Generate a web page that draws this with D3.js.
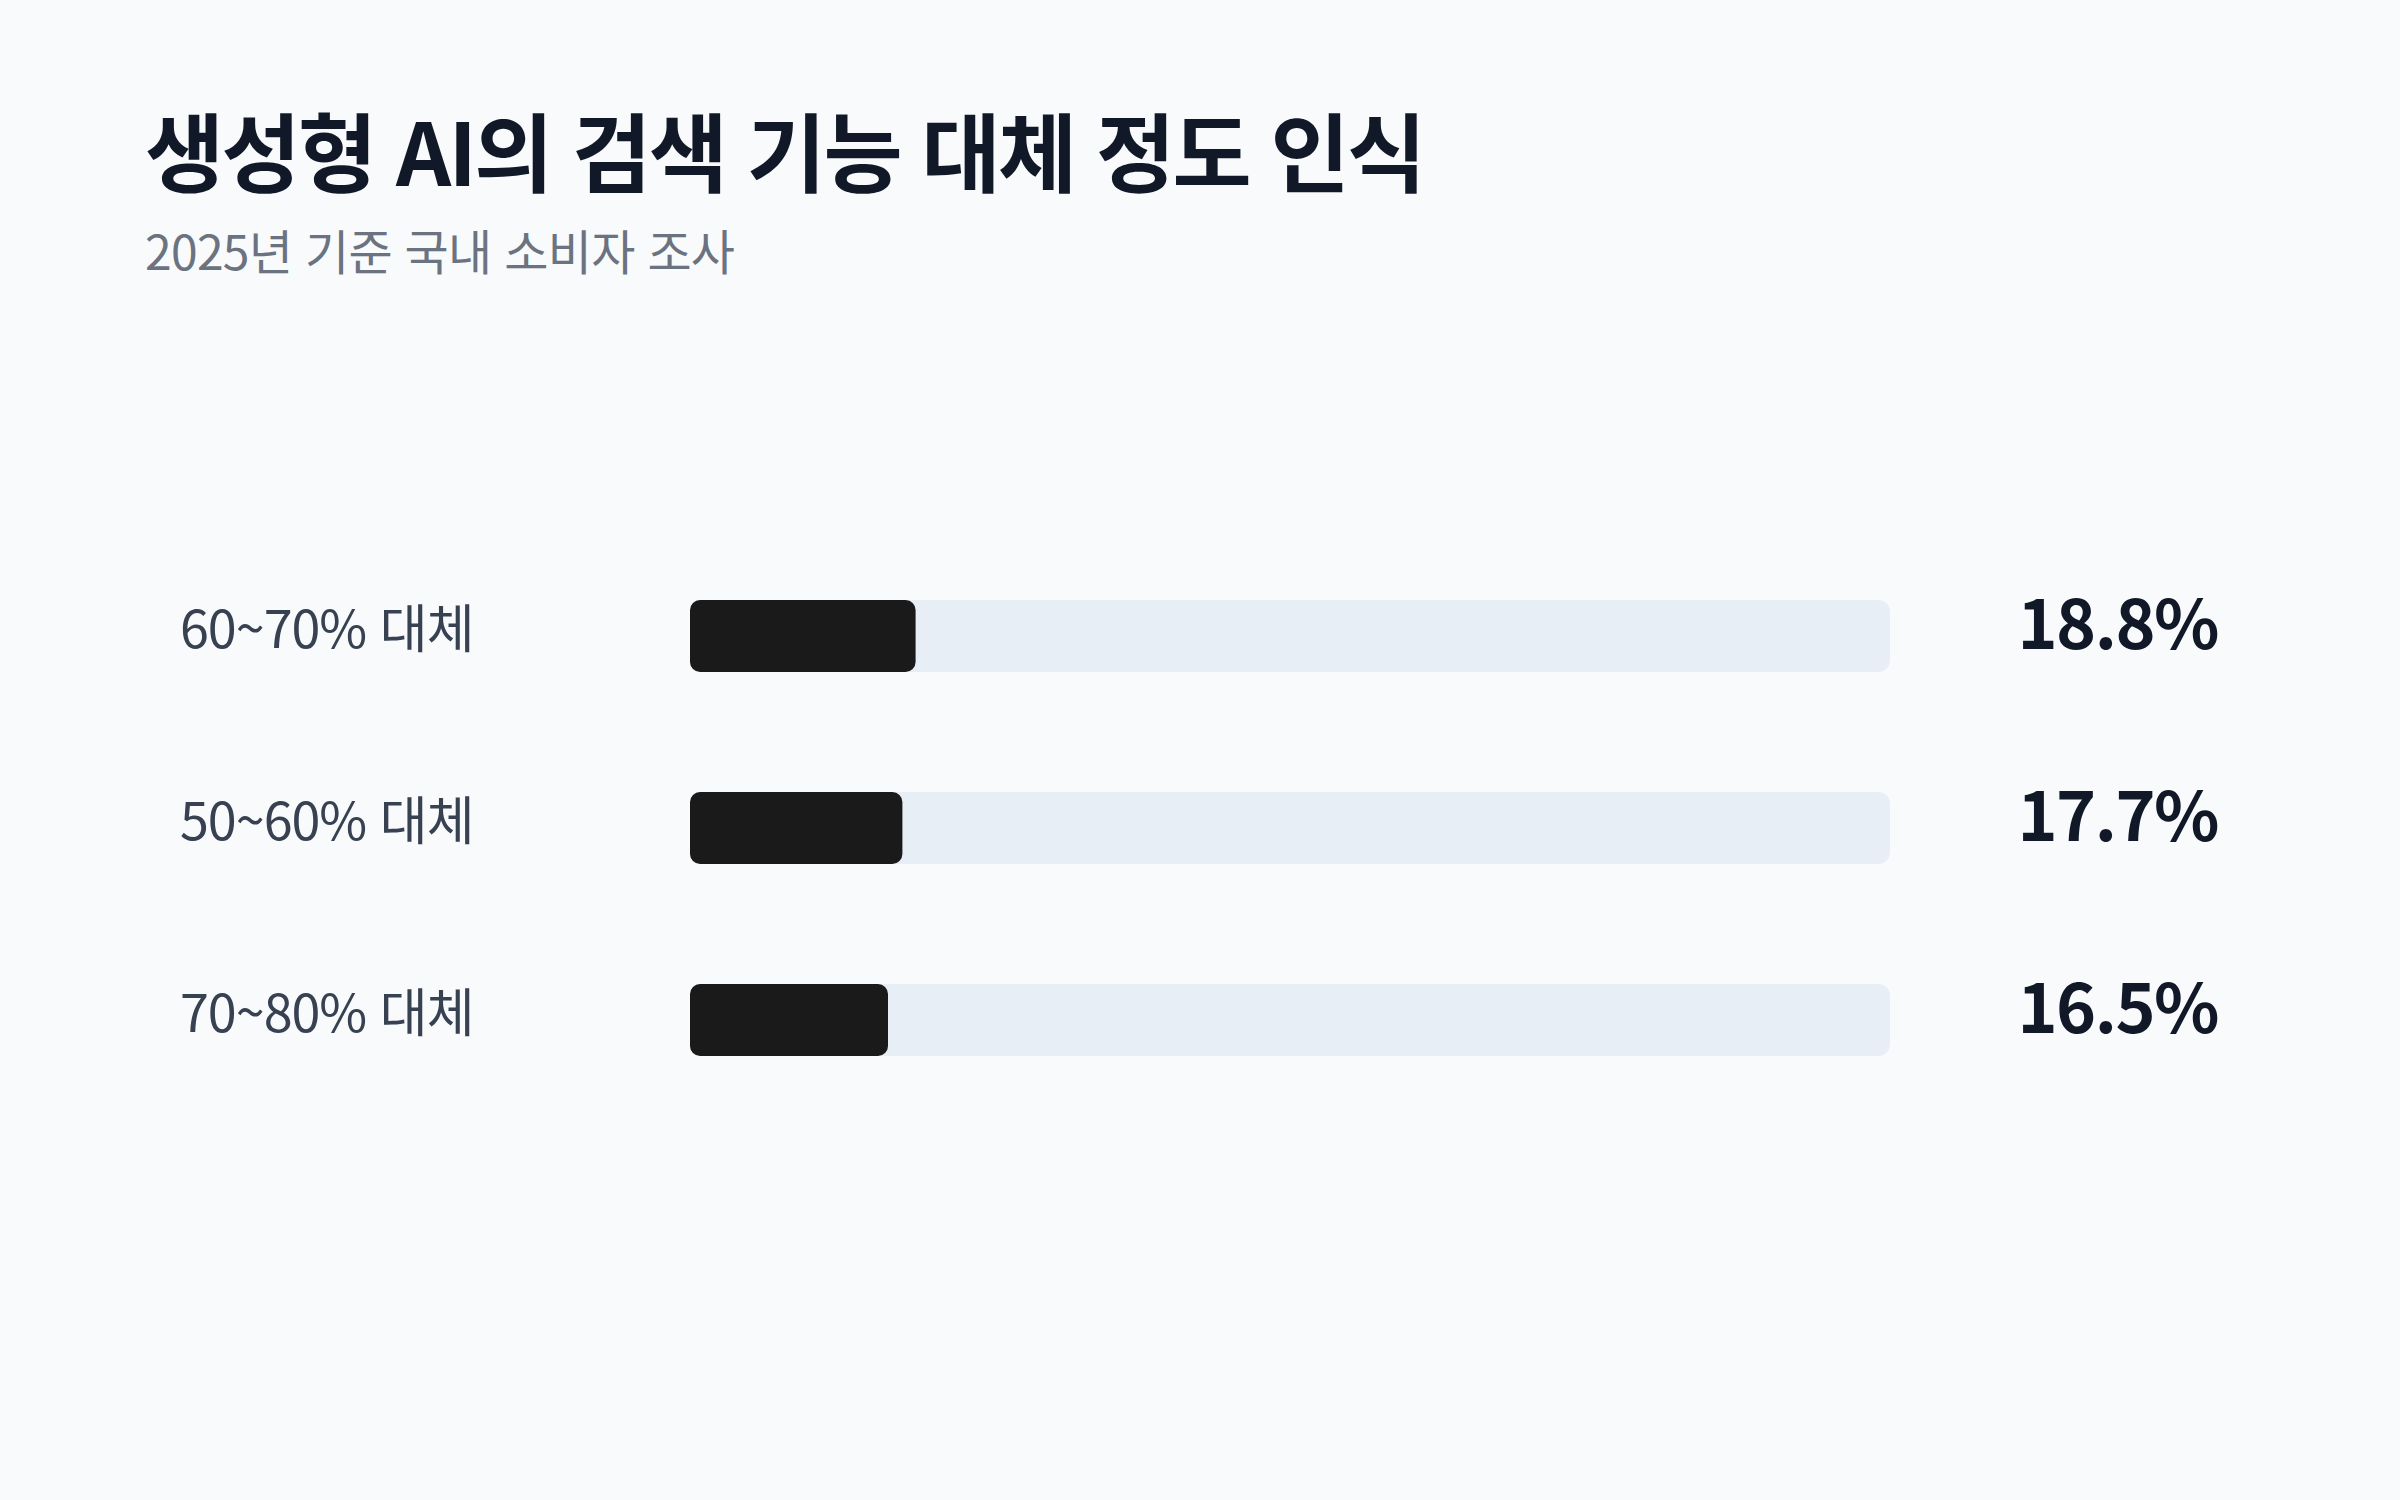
<!DOCTYPE html>
<html lang="ko">
<head>
<meta charset="utf-8">
<script src="https://cdn.jsdelivr.net/npm/d3@7"></script>
<style>
    html, body { margin: 0; padding: 0; background: #f8fafc; }
    svg { display: block; font-family: "Noto Sans CJK KR", "Noto Sans", sans-serif; }
</style>
</head>
<body>
<div id="chart"></div>
<script>
// data
const categories = ["60~70% 대체", "50~60% 대체", "70~80% 대체"];
const shares = [18.8, 17.7, 16.5];
const titleText = "생성형 AI의 검색 기능 대체 정도 인식";
const subtitleText = "2025년 기준 국내 소비자 조사";

render();

function render() {
    const width = 2400, height = 1500;
    const rows = categories.map((c, i) => ({ label: c, value: shares[i] }));

    const svg = d3.select('#chart').append('svg')
        .attr('width', width)
        .attr('height', height);

    svg.append('rect')
        .attr('width', width)
        .attr('height', height)
        .attr('fill', '#f8fafc');

    // title block
    svg.append('text')
        .attr('x', 145)
        .attr('y', 186)
        .text(titleText)
        .style('font-size', '86px')
        .style('font-weight', 700)
        .style('letter-spacing', '-2.6px')
        .style('fill', '#111827');

    svg.append('text')
        .attr('x', 145)
        .attr('y', 270)
        .text(subtitleText)
        .style('font-size', '48px')
        .style('letter-spacing', '-0.7px')
        .style('fill', '#6b7280');

    const x = d3.scaleLinear()
        .domain([0, 100])
        .range([690, 1890]);

    const y = d3.scaleBand()
        .domain(categories)
        .range([480, 1176])
        .paddingInner(0.625)
        .paddingOuter(0.625);

    const row = svg.selectAll('.row')
        .data(rows)
        .join('g')
        .attr('class', 'row')
        .attr('transform', d => `translate(0,${y(d.label)})`);

    // background track
    row.append('rect')
        .attr('x', x(0))
        .attr('width', x(100) - x(0))
        .attr('height', y.bandwidth())
        .attr('rx', 12)
        .attr('fill', '#e8eef6');

    // value bar
    row.append('rect')
        .attr('x', x(0))
        .attr('width', d => x(d.value) - x(0))
        .attr('height', y.bandwidth())
        .attr('rx', 10)
        .attr('fill', '#1a1a1a');

    row.append('text')
        .attr('x', 180)
        .attr('y', y.bandwidth() / 2 + 12)
        .text(d => d.label)
        .style('font-size', '52px')
        .style('letter-spacing', '-1px')
        .style('fill', '#374151');

    row.append('text')
        .attr('x', 2218)
        .attr('y', y.bandwidth() / 2 + 13)
        .attr('text-anchor', 'end')
        .text(d => d.value.toFixed(1) + '%')
        .style('font-size', '68px')
        .style('font-weight', 700)
        .style('letter-spacing', '-1.5px')
        .style('fill', '#111827');
}
</script>
</body>
</html>
